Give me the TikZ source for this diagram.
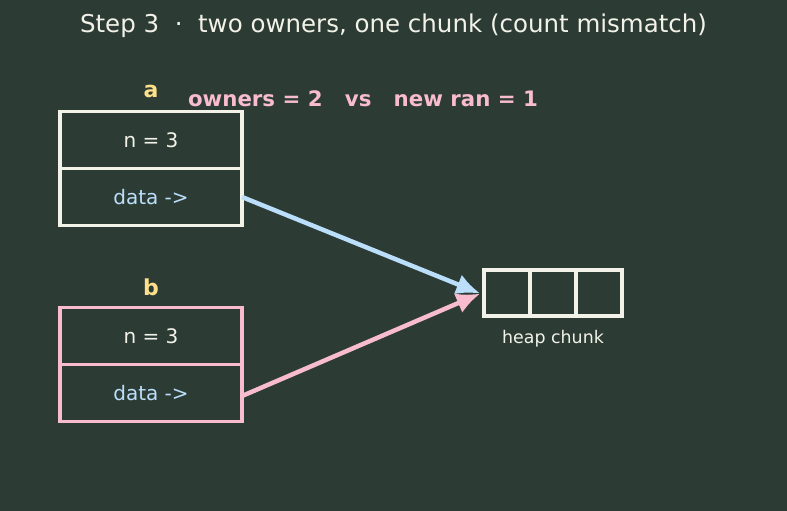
\documentclass[tikz,border=0pt]{standalone}
\usepackage{fontspec}
\setmainfont{DejaVu Sans}
\usetikzlibrary{arrows.meta,positioning}
\definecolor{bgc}{HTML}{2C3C35}
\definecolor{cream}{HTML}{F2F2E8}
\definecolor{pinkc}{HTML}{F8BBD0}
\definecolor{bluec}{HTML}{BBDEFB}
\definecolor{yellowc}{HTML}{FFE08A}
\tikzset{
  field/.style={minimum width=182pt,minimum height=57pt,inner sep=0pt,outer sep=0pt,
    font=\fontsize{20}{24}\selectfont},
  cell/.style={draw=cream,line width=3.6pt,minimum size=46pt,inner sep=0pt,outer sep=0pt},
  tag/.style={font=\fontsize{22}{26}\selectfont\bfseries,text=yellowc},
  ptr/.style={line width=4.5pt,-{Latex[length=24pt,width=21pt]}}
}
\begin{document}
\begin{tikzpicture}[x=1pt,y=-1pt]
        \fill [bgc] (0,0) rectangle (787,511);
        \node [font=\fontsize{24.5}{28}\selectfont,text=cream] (title) at (393.5,26) {Step 3\ \ ·\ \ two owners, one chunk (count mismatch)};
        \node [tag] (alabel) at (151,91) {a};
        \node [font=\fontsize{21.3}{25}\selectfont\bfseries,text=pinkc] (cmp) at (363,99) {owners = 2\ \ \ vs\ \ \ new ran = 1};
        \node [field,text=cream] (an) at (151,140) {n = 3};
        \node [field,text=bluec,below=0pt of an] (ad) {data ->};
        \draw [cream,line width=3.6pt] (an.north west) rectangle (ad.south east);
        \draw [cream,line width=2.2pt] (an.south west) -- (an.south east);
        \node [tag] (blabel) at (151,287) {b};
        \node [field,text=cream] (bn) at (151,336) {n = 3};
        \node [field,text=bluec,below=0pt of bn] (bd) {data ->};
        \draw [pinkc,line width=3.6pt] (bn.north west) rectangle (bd.south east);
        \draw [pinkc,line width=2.2pt] (bn.south west) -- (bn.south east);
        \node [cell] (c1) at (507,293) {};
        \node [cell,right=0pt of c1] (c2) {};
        \node [cell,right=0pt of c2] (c3) {};
        \node [font=\fontsize{17.4}{21}\selectfont,text=cream,below=11pt of c2] (heap) {heap chunk};
        \draw [ptr,bluec,shorten >=4pt] (ad.east) -- ([yshift=-2pt]c1.west);
        \draw [ptr,pinkc,shorten >=4pt] ([yshift=-3pt]bd.east) -- ([yshift=1pt]c1.west);
\end{tikzpicture}
\end{document}
